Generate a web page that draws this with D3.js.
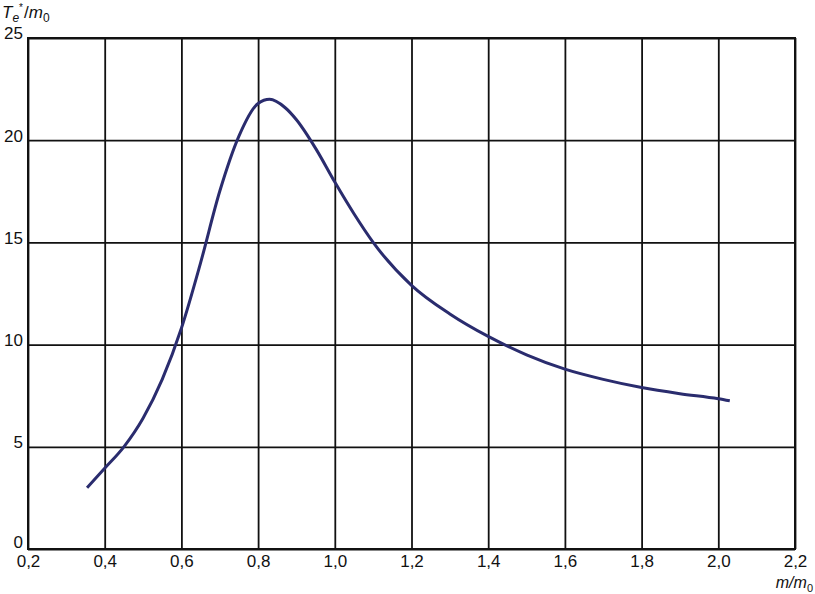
<!DOCTYPE html>
<html>
<head>
<meta charset="utf-8">
<script src="https://cdn.jsdelivr.net/npm/d3@7"></script>
<style>
  body { margin: 0; background: #fff; }
  text { font-family: "Liberation Sans", Arial, sans-serif; }
</style>
</head>
<body>
<svg id="chart"></svg>
<script>
// data
var xs = [0.354, 0.40, 0.45, 0.50, 0.55, 0.60, 0.65, 0.70, 0.75, 0.80, 0.83, 0.87, 0.90, 0.95, 1.00, 1.05, 1.10, 1.20, 1.30, 1.40, 1.50, 1.60, 1.70, 1.80, 1.90, 2.00, 2.03]
var ys = [3.0, 3.95, 5.0, 6.4, 8.3, 10.8, 14.0, 17.5, 20.2, 21.8, 22.0, 21.6, 21.0, 19.6, 17.95, 16.4, 15.0, 12.9, 11.5, 10.4, 9.5, 8.8, 8.3, 7.9, 7.6, 7.35, 7.25]
var xTicks = [0.2, 0.4, 0.6, 0.8, 1.0, 1.2, 1.4, 1.6, 1.8, 2.0, 2.2]
var yTicks = [0, 5, 10, 15, 20, 25]

var width = 815, height = 594
var margin = {top: 38, right: 20, bottom: 45, left: 28}

var svg = d3.select('#chart')
    .attr('width', width)
    .attr('height', height)

var x = d3.scaleLinear().domain([0.2, 2.2]).range([margin.left, width - margin.right])
var y = d3.scaleLinear().domain([0, 25]).range([height - margin.bottom, margin.top])

var fmt = function(d){ return d3.format('.1f')(d).replace('.', ',') }

// grid
svg.append('g')
    .attr('transform', 'translate(0,' + (height - margin.bottom) + ')')
    .call(d3.axisBottom(x).tickValues(xTicks).tickSize(-(height - margin.top - margin.bottom)).tickFormat(fmt).tickPadding(6))
    .call(function(g){
        g.select('.domain').remove()
        g.selectAll('line').attr('stroke', '#111').attr('stroke-width', 1.8)
        g.selectAll('text').attr('font-size', 17).attr('fill', '#111')
    })

svg.append('g')
    .attr('transform', 'translate(' + margin.left + ',0)')
    .call(d3.axisLeft(y).tickValues(yTicks).tickSize(-(width - margin.left - margin.right)).tickPadding(5))
    .call(function(g){
        g.select('.domain').remove()
        g.selectAll('line').attr('stroke', '#111').attr('stroke-width', 1.8)
        g.selectAll('text').attr('font-size', 17).attr('fill', '#111').attr('dy', '0.05em')
        g.selectAll('.tick').filter(function(d){ return d === 0 }).select('text').attr('dy', '-0.1em')
    })

// frame
svg.append('rect')
    .attr('x', margin.left).attr('y', margin.top)
    .attr('width', width - margin.left - margin.right)
    .attr('height', height - margin.top - margin.bottom)
    .attr('fill', 'none').attr('stroke', '#111').attr('stroke-width', 2)

// curve
var line = d3.line()
    .x(function(d){ return x(d[0]) })
    .y(function(d){ return y(d[1]) })
    .curve(d3.curveMonotoneX)

svg.append('path')
    .datum(d3.zip(xs, ys))
    .attr('d', line)
    .attr('fill', 'none')
    .attr('stroke', '#2a2c6e')
    .attr('stroke-width', 3)

// axis titles
var yt = svg.append('text').attr('x', 2).attr('y', 18).attr('font-size', 17).attr('fill', '#111')
yt.append('tspan').attr('font-style', 'italic').text('T')
yt.append('tspan').attr('font-style', 'italic').attr('font-size', 12).attr('dy', 4).text('e')
yt.append('tspan').attr('font-size', 10).attr('dy', -11).text('*')
yt.append('tspan').attr('dy', 7).attr('dx', 1).text('/')
yt.append('tspan').attr('font-style', 'italic').text('m')
yt.append('tspan').attr('font-size', 12).attr('dy', 4).text('0')

var xt = svg.append('text').attr('x', 813).attr('y', 588).attr('text-anchor', 'end').attr('font-size', 16).attr('fill', '#111')
xt.append('tspan').attr('font-style', 'italic').text('m/m')
xt.append('tspan').attr('font-size', 11).attr('dy', 4).text('0')
</script>
</body>
</html>
